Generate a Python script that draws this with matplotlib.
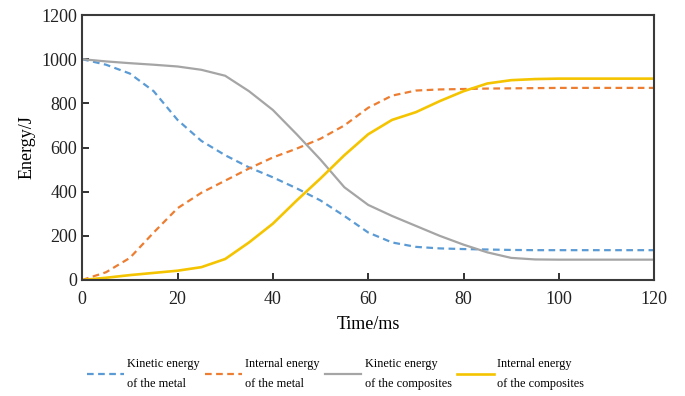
import matplotlib
matplotlib.use("Agg")
import matplotlib.pyplot as plt

plt.rcParams["font.family"] = ["Liberation Serif", "DejaVu Serif"]

time_ms = [0, 5, 10, 15, 20, 25, 30, 35, 40, 45, 50, 55, 60, 65, 70, 75, 80, 85, 90, 95, 100, 110, 120]
kinetic_metal = [1000, 975, 935, 855, 725, 630, 565, 510, 465, 415, 360, 290, 215, 170, 150, 143, 140,
                 138, 136, 135, 135, 135, 135]
internal_metal = [0, 35, 100, 215, 325, 395, 450, 505, 555, 595, 640, 700, 780, 835, 858, 863, 865,
                  867, 868, 869, 870, 870, 870]
kinetic_comp = [1000, 990, 982, 975, 967, 952, 925, 855, 770, 660, 545, 420, 340, 290, 245, 200, 160,
                125, 100, 93, 92, 92, 92]
internal_comp = [0, 10, 22, 32, 42, 58, 95, 170, 255, 360, 460, 565, 660, 725, 760, 810, 855,
                 890, 905, 910, 912, 912, 912]

labels = ["Kinetic energy\nof the metal", "Internal energy\nof the metal",
          "Kinetic energy\nof the composites", "Internal energy\nof the composites"]
x_ticks = [0, 20, 40, 60, 80, 100, 120]
y_ticks = [0, 200, 400, 600, 800, 1000, 1200]

fig = plt.figure(figsize=(6.85, 3.96), dpi=100)
ax = fig.add_axes([0.12, 0.293, 0.835, 0.669])

dash = (0, (3, 2))
ax.plot(time_ms, kinetic_metal, color="#5b9bd5", lw=1.6, ls=dash, label=labels[0])
ax.plot(time_ms, internal_metal, color="#ed7d31", lw=1.6, ls=dash, label=labels[1])
ax.plot(time_ms, kinetic_comp, color="#a5a5a5", lw=1.6, label=labels[2])
ax.plot(time_ms, internal_comp, color="#f5c400", lw=1.9, label=labels[3])

ax.set_xlim(0, 120)
ax.set_ylim(0, 1200)
ax.set_xticks(x_ticks)
ax.set_yticks(y_ticks)
ax.tick_params(direction="in", length=5, width=1.3, labelsize=13, colors="#222222")
ax.tick_params(axis="x", pad=8)
for s in ax.spines.values():
    s.set_color("#3a3a3a")
    s.set_linewidth(1.5)

ax.set_xlabel("Time/ms", fontsize=13, labelpad=6)
ax.set_ylabel("Energy/J", fontsize=13, labelpad=4)

leg = fig.legend(loc="lower center", bbox_to_anchor=(0.49, -0.012), ncol=4, frameon=False,
                 fontsize=8.8, handlelength=3.0, handletextpad=0.3, columnspacing=0.4)
for t in leg.get_texts():
    t.set_linespacing(1.9)

fig.savefig("out.png", dpi=100)
